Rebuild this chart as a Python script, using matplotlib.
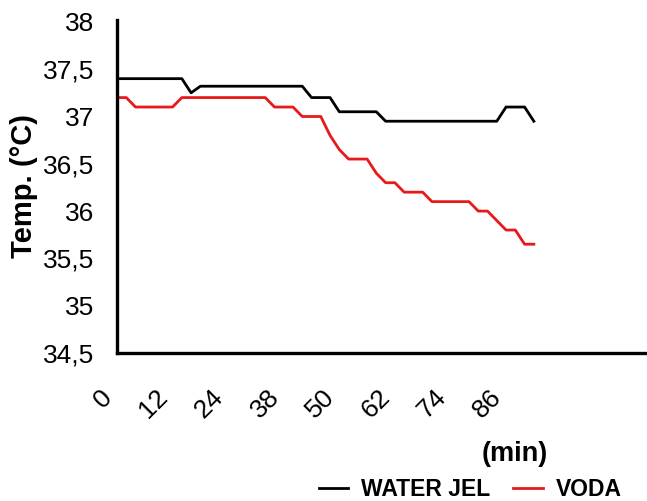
import matplotlib
matplotlib.use("Agg")
import matplotlib.pyplot as plt
import numpy as np

plt.rcParams['font.family'] = ['Liberation Sans', 'DejaVu Sans']

water_jel = [37.4, 37.4, 37.4, 37.4, 37.4, 37.4, 37.4, 37.4,
             37.25,
             37.32, 37.32, 37.32, 37.32, 37.32, 37.32, 37.32, 37.32, 37.32, 37.32, 37.32, 37.32,
             37.2, 37.2, 37.2,
             37.05, 37.05, 37.05, 37.05, 37.05,
             36.95, 36.95, 36.95, 36.95, 36.95, 36.95, 36.95, 36.95, 36.95, 36.95, 36.95, 36.95, 36.95,
             37.1, 37.1, 37.1,
             36.95]
voda = [37.2, 37.2,
        37.1, 37.1, 37.1, 37.1, 37.1,
        37.2, 37.2, 37.2, 37.2, 37.2, 37.2, 37.2, 37.2, 37.2, 37.2,
        37.1, 37.1, 37.1,
        37.0, 37.0, 37.0,
        36.8, 36.65, 36.55, 36.55, 36.55, 36.4, 36.3, 36.3,
        36.2, 36.2, 36.2,
        36.1, 36.1, 36.1, 36.1, 36.1,
        36.0, 36.0, 35.9, 35.8, 35.8, 35.65, 35.65]

x_tick_labels = ['0', '12', '24', '38', '50', '62', '74', '86']
label_every = 6
y_ticks = [34.5, 35, 35.5, 36, 36.5, 37, 37.5, 38]
y_tick_labels = ['34,5', '35', '35,5', '36', '36,5', '37', '37,5', '38']

fig = plt.figure(figsize=(6.47, 5.01), dpi=100)
ax = fig.add_axes([117/647, 1-353/501, 528/647, 333/501])

ax.plot(np.arange(len(water_jel)), water_jel, color='black', lw=2.0, label='WATER JEL')
ax.plot(np.arange(len(voda)), voda, color='#e8191b', lw=2.0, label='VODA')

ax.set_xlim(0, 57.0)
ax.set_ylim(34.5, 38.02)

for s in ['top', 'right']:
    ax.spines[s].set_visible(False)
for s in ['left', 'bottom']:
    ax.spines[s].set_linewidth(2.4)

ax.set_yticks(y_ticks)
ax.set_yticklabels(y_tick_labels, fontsize=19)
ax.set_xticks(np.arange(len(x_tick_labels)) * label_every)
ax.set_xticklabels(x_tick_labels, fontsize=19, rotation=45, ha='right', va='top')
ax.tick_params(axis='y', length=0, pad=16.5)
ax.tick_params(axis='x', length=0, pad=23)

ax.set_ylabel('Temp. (°C)', fontsize=21, fontweight='bold')
ax.yaxis.set_label_coords(-0.150, 0.5)

fig.text(515/647, 1-454/501, '(min)', fontsize=19.5, fontweight='bold', ha='center', va='center')

fig.legend(loc='center', bbox_to_anchor=(470/647, 1-490/501), ncol=2, frameon=False,
           prop={'size': 16.5, 'weight': 'bold'}, handlelength=1.3, handletextpad=0.55,
           columnspacing=1.0, borderpad=0.1)

fig.savefig('out.png', dpi=100)
